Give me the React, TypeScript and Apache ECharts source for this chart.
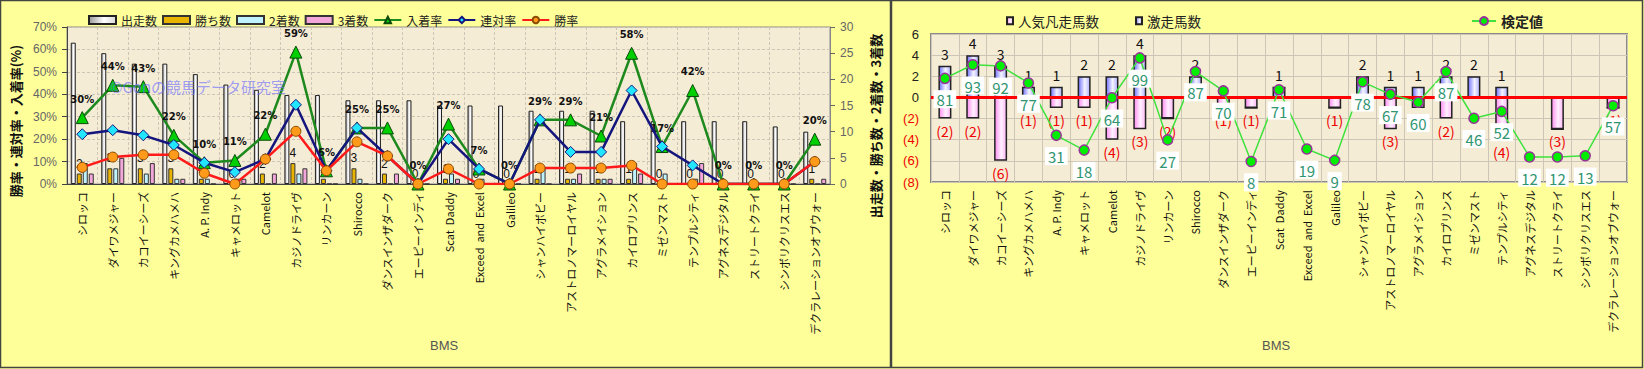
import React, { useEffect, useRef } from 'react';
import * as echarts from 'echarts';

const categories = [
  'シロッコ', 'ダイワメジャー', 'カコイーシーズ', 'キングカメハメハ', 'A. P. Indy',
  'キャメロット', 'Camelot', 'カジノドライヴ', 'リンカーン', 'Shirocco',
  'ダンスインザダーク', 'エーピーインディ', 'Scat  Daddy', 'Exceed  and  Excel', 'Galileo',
  'シャンハイボビー', 'アストロノマーロイヤル', 'アグラメイション', 'カイロプリンス', 'ミゼンマスト',
  'テンプルシティ', 'アグネスデジタル', 'ストリートクライ', 'シンボリクリスエス', 'デクラレーションオブウォー',
];

// left chart (counts)
const starts = [27, 25, 23, 23, 21, 19, 18, 17, 17, 16, 16, 16, 15, 15, 15, 14, 14, 14, 12, 12, 12, 12, 12, 11, 10];
const wins = [2, 3, 3, 3, 1, 0, 2, 4, 1, 3, 2, 0, 1, 0, 0, 1, 1, 1, 1, 0, 0, 0, 0, 0, 1];
const seconds = [4, 3, 2, 1, 1, 1, 0, 2, 0, 1, 0, 0, 2, 1, 0, 3, 1, 1, 4, 2, 1, 0, 0, 0, 0];
const thirds = [2, 5, 4, 1, 0, 1, 2, 3, 0, 0, 2, 0, 1, 0, 0, 0, 2, 1, 2, 0, 4, 0, 0, 0, 1];
// left chart (rates, %)
const placeRate = [29.6, 44, 43.4, 21.7, 9.5, 10.5, 22.2, 58.8, 5.9, 25, 25, 0, 26.7, 6.7, 0, 28.6, 28.6, 21.4, 58.3, 16.7, 41.7, 0, 0, 0, 20];
const rentaiRate = [22.2, 24, 21.7, 17.4, 9.5, 5.3, 11.1, 35.3, 5.9, 25, 12.5, 0, 20, 6.7, 0, 28.6, 14.3, 14.3, 41.7, 16.7, 8.3, 0, 0, 0, 10];
const winRate = [7.4, 12, 13, 13, 4.8, 0, 11.1, 23.5, 5.9, 18.8, 12.5, 0, 6.7, 0, 0, 7.1, 7.1, 7.1, 8.3, 0, 0, 0, 0, 0, 10];

// right chart
const ninkiBonsou = [-2, -2, -6, -1, -1, -1, -4, -3, -2, 0, -1, -1, 0, 0, -1, 0, -3, -1, -2, 0, -4, 0, -3, 0, -1];
const gekisou = [3, 4, 3, 1, 1, 2, 2, 4, 0, 2, 0, 0, 1, 0, 0, 2, 1, 1, 2, 2, 1, 0, 0, 0, 0];
const kentei = [81, 93, 92, 77, 31, 18, 64, 99, 27, 87, 70, 8, 71, 19, 9, 78, 67, 60, 87, 46, 52, 12, 12, 13, 57];

const FONT = '"Noto Sans CJK JP", "Noto Sans", sans-serif';
const PLOT_BG = '#f5ecd5';
const GRID_LINE = '#cdc6b6';

const hGrad = (a: string, b: string, c: string) =>
  new echarts.graphic.LinearGradient(0, 0, 1, 0, [
    { offset: 0, color: a },
    { offset: 0.55, color: b },
    { offset: 1, color: c },
  ]);

function leftOption(): any {
  const barCommon = {
    type: 'bar',
    yAxisIndex: 1,
    barWidth: 5,
    barGap: '20%',
    barCategoryGap: '20%',
  };
  return {
    animation: false,
    textStyle: { fontFamily: FONT },
    legend: {
      left: 83,
      top: 9,
      itemWidth: 27,
      itemHeight: 8,
      itemGap: 5,
      textStyle: { fontSize: 12, color: '#222', fontFamily: FONT },
      data: [
        { name: '出走数', icon: 'rect' },
        { name: '勝ち数', icon: 'rect' },
        { name: '2着数', icon: 'rect' },
        { name: '3着数', icon: 'rect' },
        '入着率',
        '連対率',
        '勝率',
      ],
    },
    grid: {
      left: 67, right: 61, top: 27, bottom: 185,
      show: true, backgroundColor: PLOT_BG, borderColor: '#8a8a8a', borderWidth: 1,
    },
    xAxis: {
      type: 'category',
      data: categories,
      axisLabel: { interval: 0, rotate: 90, fontSize: 11, color: '#111', margin: 8, fontFamily: FONT },
      axisTick: { show: false },
      axisLine: { lineStyle: { color: '#444' } },
      splitLine: { show: true, lineStyle: { color: GRID_LINE, type: [3, 2] } },
    },
    yAxis: [
      {
        type: 'value', min: 0, max: 70, interval: 10,
        axisLabel: { formatter: '{value}%', color: '#666', fontSize: 12, margin: 10, fontFamily: 'Arial, "Liberation Sans", sans-serif' },
        axisLine: { show: true, lineStyle: { color: '#444' } },
        axisTick: { show: true, lineStyle: { color: '#444' } },
        splitLine: { show: true, lineStyle: { color: GRID_LINE, type: [3, 2] } },
      },
      {
        type: 'value', min: 0, max: 30, interval: 5, position: 'right',
        axisLabel: { color: '#666', fontSize: 12, margin: 10, fontFamily: 'Arial, "Liberation Sans", sans-serif' },
        axisLine: { show: true, lineStyle: { color: '#888' } },
        axisTick: { show: true, lineStyle: { color: '#666' } },
        splitLine: { show: false },
      },
    ],
    graphic: [
      { type: 'rect', shape: { x: 0.5, y: 0.5, width: 890, height: 367 }, style: { fill: 'none', stroke: '#444', lineWidth: 1.5 }, silent: true },
      {
        type: 'text', x: 15, y: 121, rotation: Math.PI / 2,
        style: { text: '勝率・連対率・入着率(%)', font: `bold 13px ${FONT}`, fill: '#111', align: 'center', verticalAlign: 'middle' },
      },
      {
        type: 'text', x: 875, y: 126, rotation: Math.PI / 2,
        style: { text: '出走数・勝ち数・2着数・3着数', font: `bold 13px ${FONT}`, fill: '#111', align: 'center', verticalAlign: 'middle' },
      },
      {
        type: 'text', x: 430, y: 345,
        style: { text: 'BMS', font: '13px Arial, "Liberation Sans", sans-serif', fill: '#555', align: 'left', verticalAlign: 'middle' },
      },
      {
        type: 'text', x: 110, y: 86, z: 100,
        style: { text: '©Gonの競馬データ研究室', font: `15px ${FONT}`, fill: 'rgba(110,110,255,0.65)', align: 'left', verticalAlign: 'middle' },
      },
    ],
    series: [
      {
        ...barCommon,
        name: '出走数',
        data: starts,
        itemStyle: { color: hGrad('#9a9a9a', '#ffffff', '#d8d8d8'), borderColor: '#222', borderWidth: 1 },
      },
      {
        ...barCommon,
        name: '勝ち数',
        data: wins,
        itemStyle: { color: '#e8b400', borderColor: '#333', borderWidth: 1 },
        label: { show: true, position: 'top', distance: 4, fontSize: 12, color: '#111', fontFamily: 'Arial, "Liberation Sans", sans-serif' },
      },
      {
        ...barCommon,
        name: '2着数',
        data: seconds,
        itemStyle: { color: '#bff3ff', borderColor: '#333', borderWidth: 1 },
      },
      {
        ...barCommon,
        name: '3着数',
        data: thirds,
        itemStyle: { color: '#f2a6da', borderColor: '#333', borderWidth: 1 },
      },
      {
        type: 'line',
        name: '入着率',
        data: placeRate,
        yAxisIndex: 0,
        z: 5,
        symbol: 'triangle',
        symbolSize: 12,
        lineStyle: { color: '#1e8a1e', width: 2.5 },
        itemStyle: { color: '#00d000', borderColor: '#0a4a0a', borderWidth: 1 },
        label: {
          show: true, position: 'top', distance: 7,
          formatter: (p: any) => Math.round(p.value) + '%',
          fontSize: 10, fontWeight: 'bold', color: '#111', fontFamily: '"DejaVu Sans", sans-serif',
        },
      },
      {
        type: 'line',
        name: '連対率',
        data: rentaiRate,
        yAxisIndex: 0,
        z: 6,
        symbol: 'diamond',
        symbolSize: 11,
        lineStyle: { color: '#15157e', width: 2.5 },
        itemStyle: { color: '#22e6ff', borderColor: '#15157e', borderWidth: 1 },
      },
      {
        type: 'line',
        name: '勝率',
        data: winRate,
        yAxisIndex: 0,
        z: 7,
        symbol: 'circle',
        symbolSize: 10,
        lineStyle: { color: '#ff1a1a', width: 2.5 },
        itemStyle: { color: '#ff9a1a', borderColor: '#8a4a00', borderWidth: 1 },
      },
    ],
  };
}

function rightOption(): any {
  return {
    animation: false,
    textStyle: { fontFamily: FONT },
    legend: [
      {
        left: 110, top: 9, itemWidth: 6, itemHeight: 7, itemGap: 36,
        textStyle: { fontSize: 13.5, color: '#222', fontFamily: FONT },
        data: [{ name: '人気凡走馬数', icon: 'rect' }, { name: '激走馬数', icon: 'rect' }],
      },
      {
        left: 575, top: 9, itemWidth: 24, itemHeight: 10,
        textStyle: { fontSize: 14, color: '#222', fontWeight: 'bold', fontFamily: FONT },
        data: ['検定値'],
      },
    ],
    grid: {
      left: 40, right: 17, top: 34, bottom: 187,
      show: true, backgroundColor: PLOT_BG, borderColor: '#8a8a8a', borderWidth: 2,
    },
    xAxis: {
      type: 'category',
      data: categories,
      axisLabel: { interval: 0, rotate: 90, fontSize: 11, color: '#111', margin: 8, fontFamily: FONT },
      axisTick: { show: false },
      axisLine: { show: false },
      splitLine: { show: true, lineStyle: { color: GRID_LINE } },
    },
    yAxis: [
      {
        type: 'value', min: -8, max: 6, interval: 2,
        axisLabel: {
          margin: 12,
          formatter: (v: number) => (v < 0 ? `{n|(${-v})}` : `{p|${v}}`),
          rich: {
            n: { color: '#ee0000', fontSize: 13, fontFamily: 'Arial, "Liberation Sans", sans-serif' },
            p: { color: '#222', fontSize: 13, fontFamily: 'Arial, "Liberation Sans", sans-serif' },
          },
        },
        axisLine: { show: false },
        axisTick: { show: false },
        splitLine: { show: true, lineStyle: { color: GRID_LINE } },
      },
      { type: 'value', min: -10, max: 120, show: false, splitLine: { show: false } },
    ],
    graphic: [
      { type: 'rect', shape: { x: 0.5, y: 0.5, width: 751, height: 367 }, style: { fill: 'none', stroke: '#444', lineWidth: 1.5 }, silent: true },
      {
        type: 'text', x: 371, y: 345,
        style: { text: 'BMS', font: '13px Arial, "Liberation Sans", sans-serif', fill: '#555', align: 'left', verticalAlign: 'middle' },
      },
    ],
    series: [
      {
        type: 'bar',
        name: '人気凡走馬数',
        stack: 'a',
        data: ninkiBonsou,
        barWidth: 13,
        itemStyle: { color: hGrad('#ff8cf0', '#fff0ff', '#ffb8f6'), borderColor: '#222', borderWidth: 1.5 },
        label: {
          show: true, position: 'bottom', distance: 5,
          formatter: (p: any) => (p.value ? `(${-p.value})` : ''),
          color: '#ee0000', fontSize: 14, fontFamily: FONT,
        },
      },
      {
        type: 'bar',
        name: '激走馬数',
        stack: 'a',
        data: gekisou,
        barWidth: 13,
        itemStyle: { color: hGrad('#7070ff', '#f4f4ff', '#b0b0ff'), borderColor: '#222', borderWidth: 1.5 },
        label: {
          show: true, position: 'top', distance: 5,
          formatter: (p: any) => (p.value ? `${p.value}` : ''),
          color: '#111', fontSize: 14, fontFamily: FONT,
        },
        markLine: {
          silent: true,
          symbol: 'none',
          label: { show: false },
          lineStyle: { color: '#ff0000', width: 3, type: 'solid' },
          data: [{ yAxis: 0 }],
        },
      },
      {
        type: 'line',
        name: '検定値',
        data: kentei,
        yAxisIndex: 1,
        z: 5,
        symbol: 'circle',
        symbolSize: 10,
        lineStyle: { color: '#3de23d', width: 1.5 },
        itemStyle: { color: '#00ee00', borderColor: '#993399', borderWidth: 1.5 },
        label: {
          show: true, position: 'bottom', distance: 6,
          backgroundColor: '#ffffff', padding: [2, 3, 1, 3],
          color: '#2f9570', fontSize: 15, fontFamily: FONT,
        },
      },
    ],
  };
}

export default function App() {
  const leftRef = useRef<HTMLDivElement>(null);
  const rightRef = useRef<HTMLDivElement>(null);
  useEffect(() => {
    const l = echarts.init(leftRef.current!, null, { renderer: 'svg' });
    const r = echarts.init(rightRef.current!, null, { renderer: 'svg' });
    l.setOption(leftOption());
    r.setOption(rightOption());
    return () => {
      l.dispose();
      r.dispose();
    };
  }, []);
  return (
    <div style={{ position: 'absolute', left: 0, top: 0, width: 1644, height: 369, background: '#ffff99', overflow: 'hidden' }}>
      <div ref={leftRef} style={{ position: 'absolute', left: 0, top: 0, width: 891, height: 369 }} />
      <div ref={rightRef} style={{ position: 'absolute', left: 891, top: 0, width: 753, height: 369 }} />
    </div>
  );
}
